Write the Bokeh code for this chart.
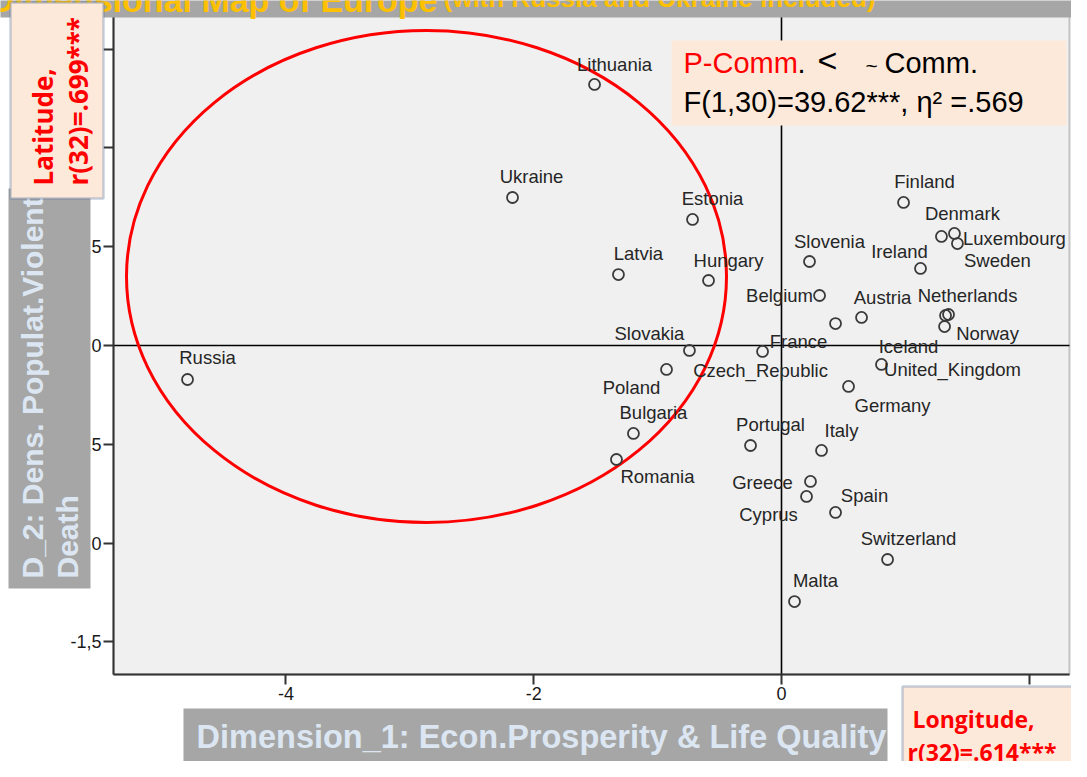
from bokeh.plotting import figure
from bokeh.models import ColumnDataSource, Range1d, FixedTicker, BoxAnnotation, Label
from bokeh.embed import file_html
from bokeh.resources import INLINE
from bokeh.core.properties import value

# ---------------- data ----------------
countries = ["Lithuania", "Ukraine", "Russia", "Estonia", "Latvia", "Hungary",
             "Slovakia", "Poland", "Czech_Republic", "Bulgaria", "Romania",
             "Slovenia", "Belgium", "France", "Austria", "Finland", "Denmark",
             "Luxembourg", "Sweden", "Ireland", "Netherlands", "Iceland", "Norway",
             "United_Kingdom", "Germany", "Portugal", "Italy", "Greece", "Cyprus",
             "Spain", "Switzerland", "Malta"]
dim1 = [-1.509, -2.171, -4.794, -0.718, -1.316, -0.589,
        -0.743, -0.928, -0.153, -1.195, -1.332,
        0.226, 0.307, 0.436, 0.646, 0.985, 1.291,
        1.396, 1.420, 1.122, 1.348, 1.324, 1.316,
        0.807, 0.541, -0.250, 0.323, 0.234, 0.202,
        0.436, 0.856, 0.105]
dim2 = [1.321, 0.749, -0.172, 0.638, 0.359, 0.329,
        -0.025, -0.121, -0.030, -0.445, -0.577,
        0.425, 0.253, 0.111, 0.142, 0.724, 0.552,
        0.567, 0.516, 0.390, 0.157, 0.152, 0.096,
        -0.096, -0.207, -0.506, -0.531, -0.688, -0.764,
        -0.845, -1.083, -1.296]

xtick_values = [-4, -2, 0, 2]
xtick_labels = ["-4", "-2", "0", "2"]
ytick_values = [-1.5, -1.0, -0.5, 0.0, 0.5, 1.0, 1.5]
ytick_labels = ["-1,5", "-1,0", "-,5", "0", ",5", "1,0", "1,5"]

# label placement (screen pixel offsets of each country label from its point)
label_dx = [20, 19, 20, 20, 20, 20,
            -40, -35, -2, 20, 41,
            20, -40, -37, 21, 21, 21,
            60, 40, -21, 19, -37, 43,
            71, 44, 20, 20, -48, -38,
            29, 21, 21]
label_dy = [-20, -21, -22, -21, -21, -20,
            -17, 18, 19, -21, 17,
            -20, 0, 18, -20, -21, -23,
            5, 17, -17, -19, 31, 7,
            5, 19, -21, -20, 1, 18,
            -17, -21, -21]

# ---------------- layout helpers (reference px -> data units) ----------------
W, H = 1071, 761
PX0, PXU = 781.0, 123.9
PY0, PYU = 345.0, 197.6


def X(px):
    return (px - PX0) / PXU


def Y(py):
    return (PY0 - py) / PYU


# plot-area bounds in data units
XMIN, XMAX = X(113), X(1069)
YMIN, YMAX = Y(674), Y(12)

p = figure(width=W, height=H, output_backend="svg", toolbar_location=None,
           x_range=Range1d(X(0), X(W)), y_range=Range1d(Y(H), Y(0)),
           min_border_left=0, min_border_right=0, min_border_top=0, min_border_bottom=0)
p.background_fill_color = "white"
p.border_fill_color = "white"
p.outline_line_color = None
p.grid.visible = False

# plot area background + frame
p.add_layout(BoxAnnotation(left=XMIN, right=XMAX, top=YMAX, bottom=YMIN, level="underlay",
                           fill_color="#f0f0f0", fill_alpha=1,
                           line_color="#4d4d4d", line_width=2))

for ax in (p.xaxis[0], p.yaxis[0]):
    ax.axis_line_color = "#333333"
    ax.axis_line_width = 2
    ax.major_tick_line_color = "#333333"
    ax.major_tick_line_width = 2
    ax.major_tick_in = 0
    ax.major_tick_out = 10
    ax.minor_tick_line_color = None
    ax.major_label_text_font = "Liberation Sans"
    ax.major_label_text_font_size = "18px"
    ax.major_label_text_color = "#1a1a1a"
    ax.major_label_standoff = 2

p.xaxis.fixed_location = YMIN
p.xaxis.bounds = (XMIN, XMAX)
p.yaxis.fixed_location = XMIN
p.yaxis.bounds = (YMIN, YMAX)
p.xaxis.ticker = FixedTicker(ticks=xtick_values)
p.xaxis.major_label_overrides = {float(v): t for v, t in zip(xtick_values, xtick_labels)}
p.yaxis.ticker = FixedTicker(ticks=ytick_values)
p.yaxis.major_label_overrides = {float(v): t for v, t in zip(ytick_values, ytick_labels)}

# reference lines through the origin
p.segment(x0=[XMIN, 0], y0=[0, YMIN], x1=[XMAX, 0], y1=[0, YMAX],
          line_color="black", line_width=1.6)

src = ColumnDataSource(dict(x=dim1, y=dim2, name=countries, dx=label_dx, dy=label_dy))

# red ellipse around the post-communist group
p.ellipse(x=X(426), y=Y(276), width=600 / PXU, height=492 / PYU,
          fill_color=None, line_color="#ff0000", line_width=3)

p.scatter(x="x", y="y", source=src, marker="circle", size=11,
          fill_color=None, line_color="#3a3a3a", line_width=1.8)
p.text(x="x", y="y", text="name", source=src, x_offset="dx", y_offset="dy",
       text_align="center", text_baseline="middle",
       text_font=value("Liberation Sans"), text_font_size="18.5px", text_color="#262626")

# statistic box
p.add_layout(BoxAnnotation(left=X(671), right=X(1066), top=Y(40), bottom=Y(125),
                           fill_color="#fde9d9", fill_alpha=1, line_color=None))
box_font = "Liberation Sans"


def add_label(**kw):
    p.add_layout(Label(**kw))


add_label(x=X(683), y=Y(62), text="P-Comm", text_color="#ff0000",
          text_font=box_font, text_font_size="29px", text_align="left", text_baseline="middle")
add_label(x=X(797), y=Y(62), text=".", text_color="black",
          text_font=box_font, text_font_size="29px", text_align="left", text_baseline="middle")
add_label(x=X(817), y=Y(59), text="<", text_color="black",
          text_font=box_font, text_font_size="34px", text_align="left", text_baseline="middle")
add_label(x=X(865), y=Y(65), text="~", text_color="black",
          text_font=box_font, text_font_size="21px", text_align="left", text_baseline="middle")
add_label(x=X(884), y=Y(62), text="Comm.", text_color="black",
          text_font=box_font, text_font_size="29px", text_align="left", text_baseline="middle")
add_label(x=X(683), y=Y(101), text="F(1,30)=39.62***, η² =.569", text_color="black",
          text_font=box_font, text_font_size="29px", text_align="left", text_baseline="middle")

# title banner (cut off at the top edge, as in the slide)
p.add_layout(BoxAnnotation(left=X(-30), right=X(W + 30), top=Y(-40), bottom=Y(17),
                           fill_color="#a6a6a6", fill_alpha=1, line_color=None))
add_label(x=X(437), y=Y(-1), text="Two-Dimensional Map of Europe",
          text_color="#ffc000", text_font="Liberation Sans", text_font_style="bold",
          text_font_size="34px", text_align="right", text_baseline="middle")
add_label(x=X(443), y=Y(-3), text="(with Russia and Ukraine included)",
          text_color="#ffc000", text_font="Liberation Sans", text_font_style="bold",
          text_font_size="26px", text_align="left", text_baseline="middle")

# axis title boxes
title_col = "#dce6f2"
p.add_layout(BoxAnnotation(left=X(8), right=X(90), top=Y(188), bottom=Y(588),
                           fill_color="#a6a6a6", fill_alpha=1, line_color=None))
add_label(x=X(32), y=Y(578), text="D_2: Dens. Populat.Violent", angle=90, angle_units="deg",
          text_color=title_col, text_font="Liberation Sans", text_font_style="bold",
          text_font_size="30px", text_align="left", text_baseline="middle")
add_label(x=X(67), y=Y(578), text="Death", angle=90, angle_units="deg",
          text_color=title_col, text_font="Liberation Sans", text_font_style="bold",
          text_font_size="30px", text_align="left", text_baseline="middle")

p.add_layout(BoxAnnotation(left=X(183), right=X(887), top=Y(708), bottom=Y(762),
                           fill_color="#a6a6a6", fill_alpha=1, line_color=None))
add_label(x=X(541), y=Y(736), text="Dimension_1: Econ.Prosperity & Life Quality",
          text_color=title_col, text_font="Liberation Sans", text_font_style="bold",
          text_font_size="32.5px", text_align="center", text_baseline="middle")

# correlation boxes
corr_font = "Open Sans"
p.add_layout(BoxAnnotation(left=X(10), right=X(103), top=Y(2), bottom=Y(198),
                           fill_color="#fde9d9", fill_alpha=1, line_color="#41669a", line_width=2.5))
add_label(x=X(42), y=Y(185), text="Latitude,", angle=90, angle_units="deg",
          text_color="#ff0000", text_font=corr_font, text_font_style="bold",
          text_font_size="26px", text_align="left", text_baseline="middle")
add_label(x=X(77), y=Y(185), text="r(32)=.699***", angle=90, angle_units="deg",
          text_color="#ff0000", text_font=corr_font, text_font_style="bold",
          text_font_size="26px", text_align="left", text_baseline="middle")

p.add_layout(BoxAnnotation(left=X(902), right=X(W + 20), top=Y(686), bottom=Y(H + 20),
                           fill_color="#fde9d9", fill_alpha=1, line_color="#41669a", line_width=2.5))
add_label(x=X(912), y=Y(718), text="Longitude,",
          text_color="#ff0000", text_font=corr_font, text_font_style="bold",
          text_font_size="23px", text_align="left", text_baseline="middle")
add_label(x=X(907), y=Y(751), text="r(32)=.614***",
          text_color="#ff0000", text_font=corr_font, text_font_style="bold",
          text_font_size="23px", text_align="left", text_baseline="middle")

open("out.html", "w").write(file_html(p, INLINE))
